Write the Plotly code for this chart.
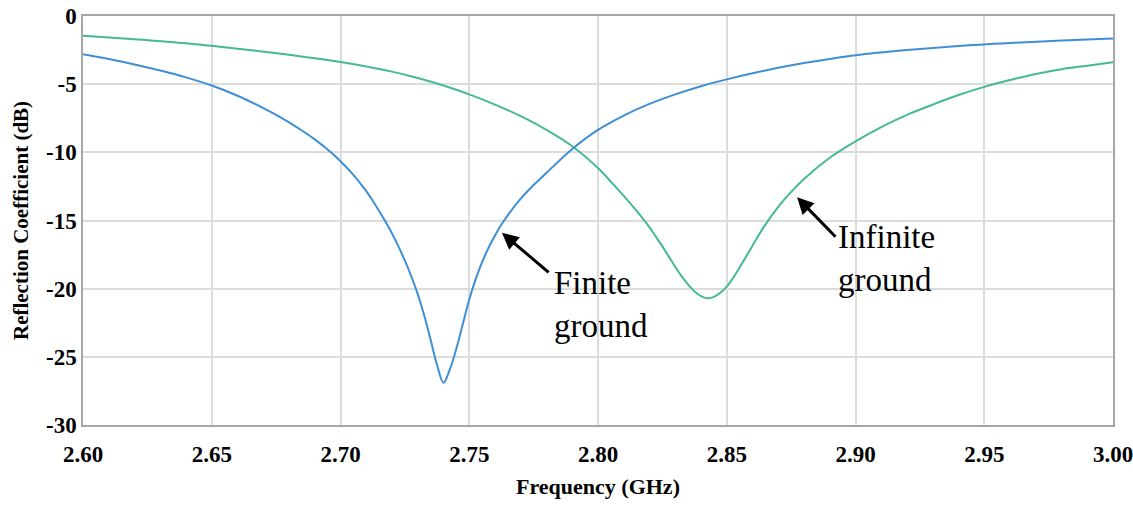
import plotly.graph_objects as go

# Finite ground (blue)
freq_finite = [2.600, 2.610, 2.620, 2.630, 2.640, 2.650, 2.660, 2.670, 2.675, 2.680,
               2.685, 2.690, 2.695, 2.700, 2.705, 2.710, 2.7125, 2.715, 2.7175, 2.720,
               2.7225, 2.725, 2.7275, 2.730, 2.7325, 2.735, 2.7375, 2.740, 2.7425, 2.745,
               2.7475, 2.750, 2.7525, 2.755, 2.7575, 2.760, 2.7625, 2.765, 2.770, 2.775,
               2.780, 2.790, 2.800, 2.810, 2.820, 2.830, 2.840, 2.850, 2.860, 2.870,
               2.880, 2.890, 2.900, 2.920, 2.940, 2.960, 2.980, 3.000]
s11_finite = [-2.8, -3.15, -3.55, -4.0, -4.5, -5.1, -5.85, -6.75, -7.25, -7.8,
              -8.4, -9.05, -9.8, -10.65, -11.65, -12.85, -13.55, -14.3, -15.1, -15.95,
              -16.9, -17.95, -19.1, -20.4, -21.95, -23.75, -25.6, -26.9, -25.9, -24.4,
              -22.6, -20.8, -19.3, -18.05, -17.0, -16.1, -15.3, -14.6, -13.4, -12.4,
              -11.5, -9.75, -8.35, -7.3, -6.45, -5.75, -5.15, -4.65, -4.2, -3.8,
              -3.45, -3.15, -2.88, -2.5, -2.2, -1.98, -1.8, -1.65]

# Infinite ground (green)
freq_infinite = [2.600, 2.620, 2.640, 2.660, 2.680, 2.700, 2.710, 2.720, 2.730, 2.740,
                 2.750, 2.760, 2.770, 2.780, 2.790, 2.800, 2.805, 2.810, 2.815, 2.820,
                 2.8225, 2.825, 2.8275, 2.830, 2.8325, 2.835, 2.8375, 2.840, 2.8425, 2.845,
                 2.8475, 2.850, 2.8525, 2.855, 2.8575, 2.860, 2.8625, 2.865, 2.870, 2.875,
                 2.880, 2.890, 2.900, 2.910, 2.920, 2.930, 2.940, 2.950, 2.960, 2.970,
                 2.980, 2.990, 3.000]
s11_infinite = [-1.45, -1.7, -2.0, -2.4, -2.85, -3.38, -3.7, -4.08, -4.55, -5.1,
                -5.75, -6.5, -7.35, -8.35, -9.55, -11.15, -12.15, -13.2, -14.3, -15.5,
                -16.2, -16.9, -17.65, -18.4, -19.1, -19.7, -20.2, -20.55, -20.7, -20.6,
                -20.3, -19.85, -19.2, -18.45, -17.65, -16.85, -16.05, -15.3, -14.0, -12.9,
                -11.95, -10.4, -9.2, -8.15, -7.25, -6.5, -5.8, -5.2, -4.7, -4.25,
                -3.9, -3.65, -3.4]

x_ticks = [2.60, 2.65, 2.70, 2.75, 2.80, 2.85, 2.90, 2.95, 3.00]
x_tick_labels = ["2.60", "2.65", "2.70", "2.75", "2.80", "2.85", "2.90", "2.95", "3.00"]
y_ticks = [0, -5, -10, -15, -20, -25, -30]
y_tick_labels = ["0", "-5", "-10", "-15", "-20", "-25", "-30"]

SERIF = "Liberation Serif, Times New Roman, serif"

fig = go.Figure()
fig.add_trace(go.Scatter(x=freq_infinite, y=s11_infinite, mode="lines",
                         line=dict(color="#45b898", width=2, shape="spline", smoothing=1.0),
                         name="Infinite ground", showlegend=False))
fig.add_trace(go.Scatter(x=freq_finite, y=s11_finite, mode="lines",
                         line=dict(color="#3f8fd6", width=2, shape="spline", smoothing=1.0),
                         name="Finite ground", showlegend=False))

# arrows
fig.add_annotation(x=2.7627, y=-15.9, ax=2.7814, ay=-18.9, xref="x", yref="y",
                   axref="x", ayref="y", showarrow=True, arrowhead=2, arrowsize=1.1,
                   arrowwidth=3, arrowcolor="black", text="")
fig.add_annotation(x=2.8773, y=-13.3, ax=2.8928, ay=-16.3, xref="x", yref="y",
                   axref="x", ayref="y", showarrow=True, arrowhead=2, arrowsize=1.1,
                   arrowwidth=3, arrowcolor="black", text="")
# labels
fig.add_annotation(x=2.7820, y=-18.1, xref="x", yref="y", showarrow=False,
                   text="Finite<br>ground", xanchor="left", yanchor="top", align="left",
                   font=dict(family=SERIF, size=33, color="black"))
fig.add_annotation(x=2.8924, y=-14.75, xref="x", yref="y", showarrow=False,
                   text="Infinite<br>ground", xanchor="left", yanchor="top", align="left",
                   font=dict(family=SERIF, size=33, color="black"))

axis_common = dict(showline=True, linecolor="#a6a6a6", linewidth=1.5, mirror=True,
                   showgrid=True, gridcolor="#dcdcdc", gridwidth=1.5, zeroline=False,
                   ticks="", automargin=False, ticklabeloverflow="allow",
                   tickfont=dict(family=SERIF, size=23, color="black", weight="bold"))

fig.update_xaxes(range=[2.60, 3.00], tickvals=x_ticks, ticktext=x_tick_labels,
                 title=dict(text="<b>Frequency (GHz)</b>", font=dict(family=SERIF, size=22, color="black"),
                            standoff=12),
                 ticklabelstandoff=8, **axis_common)
fig.update_yaxes(range=[-30, 0], tickvals=y_ticks, ticktext=y_tick_labels,
                 title=dict(text="<b>Reflection Coefficient (dB)</b>", font=dict(family=SERIF, size=21, color="black"),
                            standoff=12),
                 **axis_common)

fig.update_layout(width=1133, height=505, margin=dict(l=83, r=20, t=16, b=80),
                  plot_bgcolor="white", paper_bgcolor="white")

fig.write_html("out.html")
